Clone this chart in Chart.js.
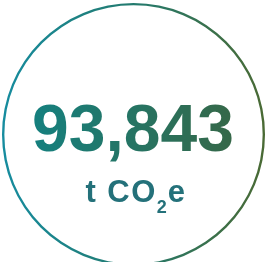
<!DOCTYPE html>
<html><head><meta charset="utf-8">
<script src="https://cdn.jsdelivr.net/npm/chart.js@4"></script>
<style>
html,body{margin:0;padding:0;background:#fff;}
#wrap{position:relative;width:268px;height:262px;overflow:hidden;}
#cv{position:absolute;left:0;top:0;}
.t{position:absolute;left:0;width:268px;text-align:center;font-family:"Liberation Sans",Arial,sans-serif;font-weight:bold;line-height:1;white-space:nowrap;}
#val{top:95px;font-size:66px;left:-1px;}
#val span{background:linear-gradient(90deg,#15807f,#366848);-webkit-background-clip:text;background-clip:text;color:transparent;}
#unit{top:176px;font-size:31px;color:#24717a;left:2px;letter-spacing:1.5px;}
#unit sub{font-size:18px;vertical-align:baseline;position:relative;top:11px;letter-spacing:1px;}
</style></head>
<body>
<div id="wrap">
<div style="position:absolute;left:0;top:0;width:268px;height:268px;"><canvas id="cv" width="268" height="268"></canvas></div>
<div class="t" id="val"><span></span></div>
<div class="t" id="unit">t CO<sub>2</sub>e</div>
</div>
<script>
const labels = ['Total emissions'];
const values = [93843];
const unitLabel = 't CO₂e';

document.querySelector('#val span').textContent = values[0].toLocaleString('en-US');

const ring = (ctx) => {
  const chart = ctx.chart;
  const area = chart.chartArea;
  if (!area) return '#1b8b9c';
  const g = chart.ctx.createLinearGradient(area.left, 0, area.right, 0);
  g.addColorStop(0, '#168c9f');
  g.addColorStop(0.5, '#237a6e');
  g.addColorStop(1, '#4a6a34');
  return g;
};

new Chart(document.getElementById('cv'), {
  type: 'doughnut',
  data: { labels: labels, datasets: [{ data: values, backgroundColor: ring, borderWidth: 0, hoverOffset: 0 }] },
  options: {
    responsive: false,
    animation: false,
    cutout: '98.2%',
    layout: { padding: { left: 2, right: 3, top: 3, bottom: 2 } },
    plugins: { legend: { display: false }, tooltip: { enabled: false }, title: { display: false } },
    events: []
  }
});
</script>
</body></html>
